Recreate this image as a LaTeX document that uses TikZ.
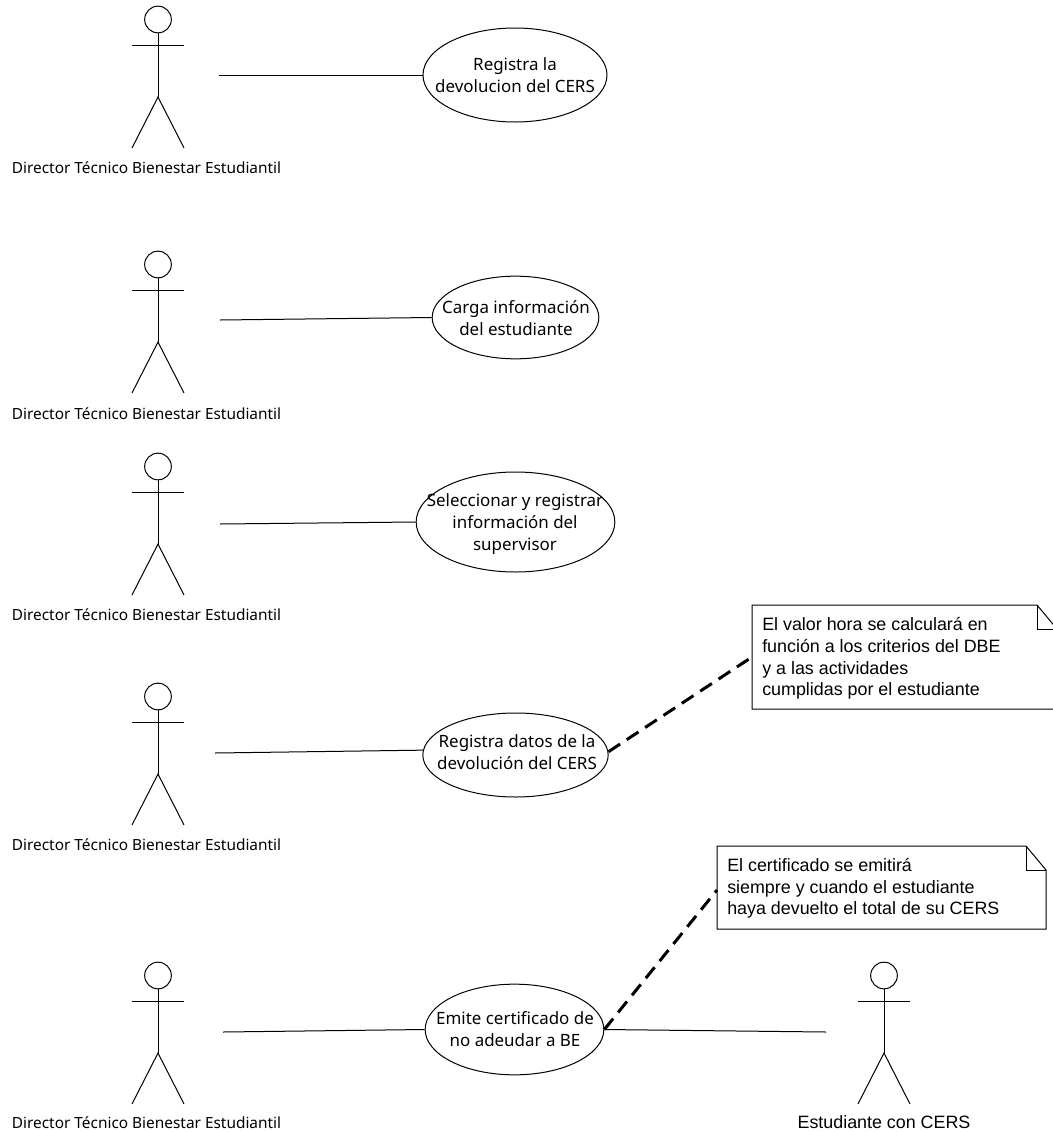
\documentclass[tikz,border=0pt]{standalone}
\usepackage{fontspec}
\setmainfont{Liberation Sans}
\newfontfamily\tahomalike{Noto Sans}
\usetikzlibrary{shapes.geometric}
\tikzset{
  x=0.75pt,y=-0.75pt,
  every node/.style={inner sep=0pt},
  thinline/.style={draw=black,line width=0.75pt},
  usecase/.style={ellipse,draw=black,line width=0.75pt,anchor=center},
  usetext/.style={anchor=center,align=center,font=\tahomalike\fontsize{12.7pt}{16.5pt}\selectfont},
  actorlabel/.style={anchor=base,font=\tahomalike\fontsize{11.55pt}{16pt}\selectfont},
  actorlabelb/.style={anchor=base,font=\fontsize{13.4pt}{16pt}\selectfont},
  notetext/.style={anchor=north west,align=left,font=\fontsize{13.4pt}{16.2pt}\selectfont},
  notelink/.style={draw=black,line width=2.25pt,dash pattern=on 10.5pt off 6pt}
}
\newcommand{\actor}[7]{% name, x, head-top y, label x, label y, label, style
  \draw[thinline] (#2,#3+13.5) circle[radius=10pt];
  \draw[thinline] (#2,#3+27) -- (#2,#3+91);
  \draw[thinline] (#2-26,#3+39) -- (#2+26,#3+39);
  \draw[thinline] (#2-26,#3+142) -- (#2,#3+91) -- (#2+26,#3+142);
  \node[#7] (#1) at (#4,#5) {#6};}
\newcommand{\notebox}[5]{% name, left, top, right, bottom
  \coordinate (#1nw) at (#2,#3);
  \draw[thinline,fill=white] (#2,#3) -- (#4-20,#3) -- (#4,#3+24) -- (#4,#5) -- (#2,#5) -- cycle;
  \draw[thinline] (#4-20,#3) -- (#4-20,#3+24) -- (#4,#3+24);}
\begin{document}
\begin{tikzpicture}
\useasboundingbox (0,0) rectangle (1053,1132);
\def\dbe{Director Técnico Bienestar Estudiantil}
\actor{a1}{158}{6}{146.5}{173}{\dbe}{actorlabel}
\actor{a2}{158}{251}{146.5}{419}{\dbe}{actorlabel}
\actor{a3}{158}{453}{146.5}{620}{\dbe}{actorlabel}
\actor{a4}{158}{683}{146.5}{850}{\dbe}{actorlabel}
\actor{a5}{158}{962}{146.5}{1128}{\dbe}{actorlabel}
\actor{a6}{884}{962}{884}{1128}{Estudiante con CERS}{actorlabelb}
\node[usecase,minimum width=138pt,minimum height=70.5pt] (u1) at (515,75) {};
\node[usecase,minimum width=125pt,minimum height=62pt] (u2) at (515.5,317.5) {};
\node[usecase,minimum width=149pt,minimum height=75pt] (u3) at (515.5,522) {};
\node[usecase,minimum width=139pt,minimum height=63pt] (u4) at (515.5,755) {};
\node[usecase,minimum width=134pt,minimum height=68pt] (u5) at (514.5,1029.5) {};
\node[usetext] (tu1) at (515,75) {Registra la\\devolucion del CERS};
\node[usetext] (tu2) at (516,318) {Carga información\\del estudiante};
\node[usetext] (tu3) at (515,524) {Seleccionar y registrar\\información del\\supervisor};
\node[usetext] (tu4) at (517,752) {Registra datos de la\\devolución del CERS};
\node[usetext] (tu5) at (515,1029) {Emite certificado de\\no adeudar a BE};
\coordinate (c1) at (219,75);
\coordinate (c2) at (220,320);
\coordinate (c3) at (220,524);
\coordinate (c4) at (215,753);
\coordinate (c5) at (223,1032);
\coordinate (c6) at (826,1032);
\draw[thinline] (c1) -- (u1.west);
\draw[thinline] (c2) -- (u2.west);
\draw[thinline] (c3) -- (u3.west);
\draw[thinline] (c4) -- (u4.177.5);
\draw[thinline] (c5) -- (u5.west);
\draw[thinline] (c6) -- (u5.east);
\notebox{n1}{752}{605}{1057}{709}
\notebox{n2}{717}{846}{1046}{929}
\node[notetext] (t1) at (762,617.5) {El valor hora se calculará en\\función a los criterios del DBE\\y a las actividades\\cumplidas por el estudiante};
\node[notetext] (t2) at (727,858) {El certificado se emitirá\\siempre y cuando el estudiante\\haya devuelto el total de su CERS};
\coordinate (n1l) at (752,657);
\coordinate (n2l) at (717,890);
\draw[notelink] (u4.2.5) -- (n1l);
\draw[notelink] (u5.east) -- (n2l);
\end{tikzpicture}
\end{document}
